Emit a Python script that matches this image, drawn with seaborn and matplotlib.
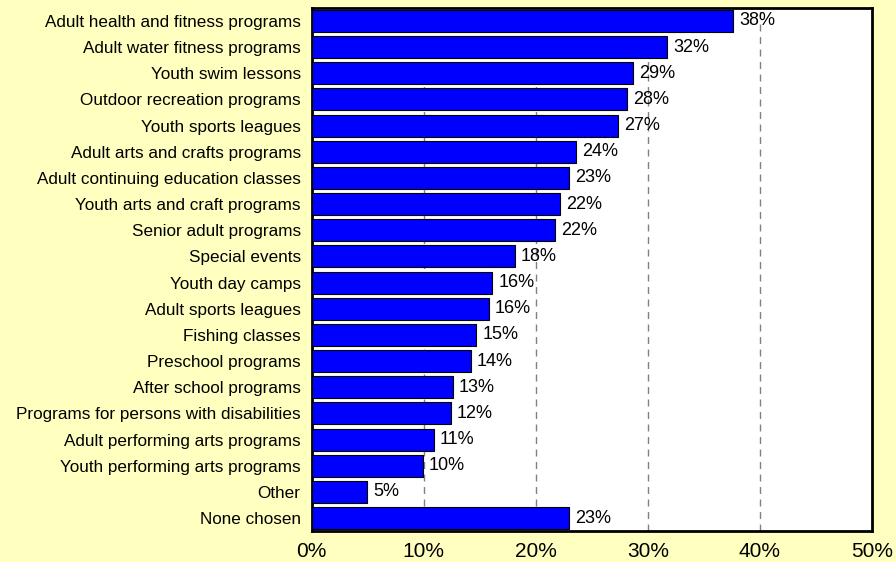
import matplotlib
matplotlib.use("Agg")
import matplotlib.pyplot as plt
import seaborn as sns
import pandas as pd
from matplotlib.ticker import FuncFormatter

programs = [
    "Adult health and fitness programs",
    "Adult water fitness programs",
    "Youth swim lessons",
    "Outdoor recreation programs",
    "Youth sports leagues",
    "Adult arts and crafts programs",
    "Adult continuing education classes",
    "Youth arts and craft programs",
    "Senior adult programs",
    "Special events",
    "Youth day camps",
    "Adult sports leagues",
    "Fishing classes",
    "Preschool programs",
    "After school programs",
    "Programs for persons with disabilities",
    "Adult performing arts programs",
    "Youth performing arts programs",
    "Other",
    "None chosen",
]
percent = [37.6, 31.7, 28.7, 28.1, 27.3, 23.6, 23.0, 22.2, 21.7, 18.1,
           16.1, 15.8, 14.7, 14.2, 12.6, 12.4, 10.9, 9.9, 4.9, 23.0]
x_ticks = [0, 10, 20, 30, 40, 50]

df = pd.DataFrame({"program": programs, "percent": percent})

sns.set_style("white")
plt.rcParams["font.family"] = ["Liberation Sans", "DejaVu Sans"]

fig = plt.figure(figsize=(8.96, 5.62), dpi=100, facecolor="#FFFFC0")
ax = fig.add_axes([0.348, 0.055, 0.625, 0.931])
ax.set_facecolor("white")

sns.barplot(data=df, x="percent", y="program", orient="h", color="#0000FF",
            saturation=1, edgecolor="black", linewidth=0.8, width=0.84, ax=ax,
            zorder=3)

# dashed vertical gridlines behind bars
for t in x_ticks[1:-1]:
    ax.axvline(t, color="#808080", linestyle=(0, (5, 4)), linewidth=1, zorder=1)

for i, v in enumerate(percent):
    ax.text(v + 0.55, i, f"{v:.0f}%", va="center", ha="left", fontsize=13,
            color="black", zorder=4)

ax.set_xlim(0, 50)
ax.set_xticks(x_ticks)
ax.xaxis.set_major_formatter(FuncFormatter(lambda x, _: f"{x:.0f}%"))
ax.tick_params(axis="x", length=0, labelsize=15, pad=8, labelcolor="black")
ax.tick_params(axis="y", length=0, labelsize=12.3, pad=8, labelcolor="black")
ax.set_xlabel("")
ax.set_ylabel("")
for s in ax.spines.values():
    s.set_visible(True)
    s.set_color("black")
    s.set_linewidth(2)

fig.savefig("out.png", dpi=100, facecolor=fig.get_facecolor())
